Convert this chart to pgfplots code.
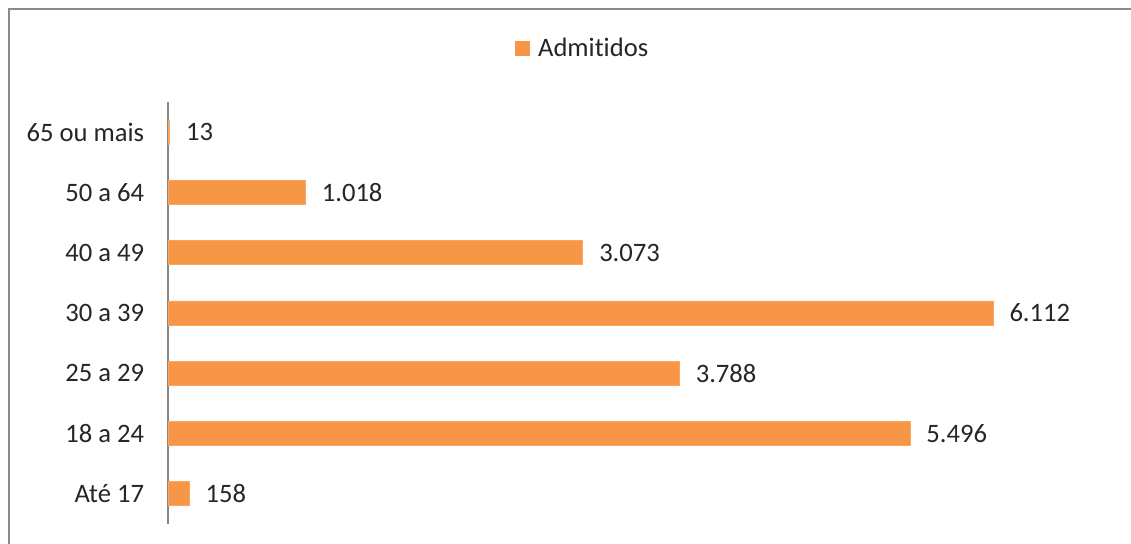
\documentclass[border=0pt]{standalone}
\usepackage{fontspec}
\setmainfont{Carlito}[Ligatures=NoCommon]
\usepackage{pgfplots}
\pgfplotsset{compat=1.18}

\definecolor{barorange}{HTML}{F79646}
\definecolor{axisgray}{HTML}{868686}
\definecolor{framegray}{HTML}{8A8A8A}

\begin{document}
\begin{tikzpicture}
  % page = 1131 x 544 px at 0.5pt per px
  \useasboundingbox (0,0) rectangle (565.5pt,272pt);
  \fill[white] (0,0) rectangle (565.5pt,272pt);
  \draw[framegray, line width=1pt] (4.5pt,0) -- (4.5pt,267.5pt) -- (565.5pt,267.5pt);
  \begin{axis}[
      at={(84pt,10pt)}, anchor=south west,
      scale only axis,
      width=472.5pt, height=211pt,
      xbar, bar width=12pt,
      xmin=0, xmax=7000,
      ymin=-0.5, ymax=6.5,
      ytick={0,1,2,3,4,5,6},
      yticklabels={Até 17,18 a 24,25 a 29,30 a 39,40 a 49,50 a 64,65 ou mais},
      ytick style={draw=none},
      yticklabel style={inner sep=0pt, xshift=-7.5pt, anchor=east},
      xtick=\empty,
      axis x line=none,
      axis y line*=left,
      y axis line style={axisgray, line width=0.6pt, -},
      tick label style={font=\fontsize{13.3}{16}\selectfont, text=black!85},
      nodes near coords={\pgfmathprintnumber[1000 sep={.}, assume math mode=true]{\pgfplotspointmeta}},
      every node near coord/.append style={font=\fontsize{13.3}{16}\selectfont, text=black!85, anchor=west, inner sep=0pt, xshift=8pt},
      legend style={at={(0.44,1.127)}, anchor=center, draw=none, fill=none,
        font=\fontsize{13.3}{16}\selectfont, text=black!85},
      legend image code/.code={\fill[barorange] (0pt,-3.5pt) rectangle (7pt,3.5pt); \path (9pt,0pt);},
      clip=false,
    ]
    \addplot[fill=barorange, draw=barorange!85!white] coordinates {
      (158,0) (5496,1) (3788,2) (6112,3) (3073,4) (1018,5) (13,6)
    };
    \addlegendentry{Admitidos}
  \end{axis}
\end{tikzpicture}
\end{document}
